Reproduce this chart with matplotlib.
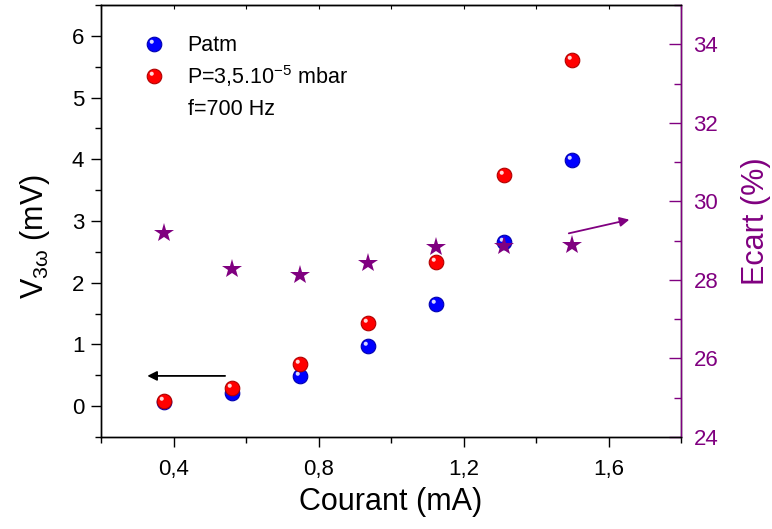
import numpy as np
import matplotlib
matplotlib.use('Agg')
import matplotlib.pyplot as plt
from matplotlib.path import Path
from matplotlib.legend_handler import HandlerTuple
from matplotlib.ticker import MultipleLocator, FuncFormatter

plt.rcParams['font.family'] = ['Liberation Sans', 'DejaVu Sans']
plt.rcParams['mathtext.fontset'] = 'custom'
plt.rcParams['mathtext.rm'] = 'Liberation Sans'
plt.rcParams['mathtext.it'] = 'Liberation Sans:italic'

# data
courant = [0.375, 0.5625, 0.75, 0.9375, 1.125, 1.3125, 1.5]
v_patm = [0.06, 0.21, 0.49, 0.97, 1.66, 2.66, 3.99]
v_vide = [0.09, 0.29, 0.68, 1.35, 2.34, 3.74, 5.61]
ecart = [29.19, 28.29, 28.12, 28.44, 28.85, 28.86, 28.89]

# arrows (start, end) in data units
arrow_left = [(0.55, 0.49), (0.32, 0.49)]
arrow_right = [(1.483, 29.17), (1.665, 29.55)]

purple = '#800080'

# little highlight to make the dots look like spheres
hl = Path.circle(center=(-0.38, 0.38), radius=0.28)
hl_marker = Path(np.vstack([[[1, 1], [-1, -1]], hl.vertices]),
                 np.concatenate([[Path.MOVETO, Path.MOVETO], hl.codes]))

fig = plt.figure(figsize=(7.72, 5.29), dpi=100)
ax = fig.add_axes([101/772, 92/529, 580/772, 432/529])
ax2 = ax.twinx()

b1, = ax.plot(courant, v_patm, 'o', ms=10.5, color='#0000ff', mec='#0000b0', mew=0.8)
b2, = ax.plot(courant, v_patm, marker=hl_marker, ls='', ms=10.5, color='white', mew=0, alpha=0.85)
r1, = ax.plot(courant, v_vide, 'o', ms=10.5, color='#ff0000', mec='#b00000', mew=0.8)
r2, = ax.plot(courant, v_vide, marker=hl_marker, ls='', ms=10.5, color='white', mew=0, alpha=0.85)
ax2.plot(courant, ecart, '*', ms=15, color=purple, mew=0)

ax.annotate('', xy=arrow_left[1], xytext=arrow_left[0],
            arrowprops=dict(arrowstyle='-|>', color='black', lw=1.3, mutation_scale=14))
ax2.annotate('', xy=arrow_right[1], xytext=arrow_right[0],
             arrowprops=dict(arrowstyle='-|>', color=purple, lw=1.3, mutation_scale=14))

ax.set_xlim(0.2, 1.8)
ax.set_ylim(-0.5, 6.5)
ax2.set_ylim(24, 35)

comma = FuncFormatter(lambda v, p: ('%g' % v).replace('.', ','))
ax.xaxis.set_major_locator(MultipleLocator(0.4))
ax.xaxis.set_minor_locator(MultipleLocator(0.2))
ax.xaxis.set_major_formatter(comma)
ax.yaxis.set_major_locator(MultipleLocator(1))
ax.yaxis.set_minor_locator(MultipleLocator(0.5))
ax2.yaxis.set_major_locator(MultipleLocator(2))
ax2.yaxis.set_minor_locator(MultipleLocator(1))

ax.tick_params(which='both', direction='out', labelsize=16, width=1)
ax.tick_params(which='major', length=7)
ax.tick_params(which='minor', length=4)
ax.tick_params(axis='x', pad=9)
ax.tick_params(axis='y', pad=5)
ax2.tick_params(which='both', direction='in', colors=purple, labelsize=16, width=1, pad=9)
ax2.tick_params(which='major', length=9)
ax2.tick_params(which='minor', length=5)

top = ax.secondary_xaxis('top')
top.xaxis.set_major_locator(MultipleLocator(0.2))
top.tick_params(direction='in', length=3, labeltop=False)

for s in ax2.spines.values():
    s.set_linewidth(1)
ax2.spines['right'].set_color(purple)
for s in ax.spines.values():
    s.set_linewidth(1)

ax.set_xlabel('Courant (mA)', fontsize=22)
ax.xaxis.set_label_coords(0.5, -0.115)
ax.set_ylabel(r'V$_{\mathregular{3\omega}}$ (mV)', fontsize=22)
ax.yaxis.set_label_coords(-0.085, 0.465)
ax2.set_ylabel('Ecart (%)', fontsize=22, color=purple)
ax2.yaxis.set_label_coords(1.103, 0.5)

leg = ax.legend([(b1, b2), (r1, r2)],
                ['Patm', r'P=3,5.10$^{\mathregular{-5}}$ mbar'],
                handler_map={tuple: HandlerTuple(ndivide=1)},
                loc='upper left', bbox_to_anchor=(0.035, 0.975), frameon=False,
                fontsize=15.5, handlelength=1.2, handletextpad=0.95, labelspacing=0.3)
ax.text(0.15, 0.757, 'f=700 Hz', transform=ax.transAxes, fontsize=15.5, va='center', ha='left')

fig.savefig('out.png', dpi=100)
